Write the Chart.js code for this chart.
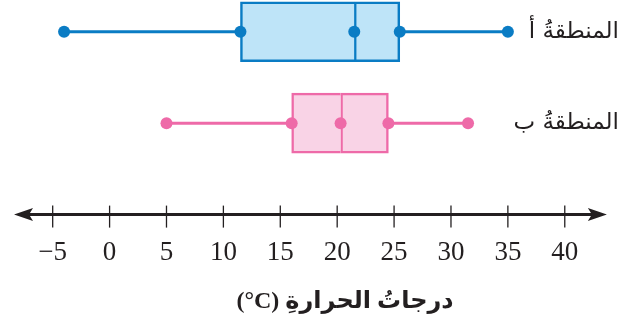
<!DOCTYPE html>
<html lang="ar">
<head>
<meta charset="utf-8">
<script src="https://cdn.jsdelivr.net/npm/chart.js@4.4.1/dist/chart.umd.min.js"></script>
<style>
  html, body { margin: 0; padding: 0; background: #fff; }
  #wrap { width: 628px; height: 329px; position: relative; }
</style>
</head>
<body>
<div id="wrap"><canvas id="box-chart"></canvas></div>
<script>
// ─── Data ────────────────────────────────────────
const regions = ['المنطقةُ أ', 'المنطقةُ ب'];
const mins    = [-4, 5];
const q1s     = [11.5, 16];
const medians = [21.5, 20.3];
const q3s     = [25.5, 24.5];
const maxs    = [35, 31.5];

const xTicks     = [-5, 0, 5, 10, 15, 20, 25, 30, 35, 40];
const axisEnds   = [-8.4, 43.7];           // arrow tips of the number line
const axisTitle  = 'درجاتُ الحرارةِ (\u200E°C)';

// ─── Styles ──────────────────────────────────────
const INK = '#231f20';
const strokes = ['#0a7cc4', '#ee6aa8'];
const fills   = ['#bee4f8', '#f9d3e6'];

const rowOf = (i) => regions.length - i;   // A on top

// ─── Datasets ────────────────────────────────────
const datasets = [];
regions.forEach((name, i) => {
  const row = rowOf(i);
  const boxStyle = {
    type: 'bar',
    indexAxis: 'y',
    backgroundColor: fills[i],
    borderColor: strokes[i],
    borderWidth: 2.5,
    barThickness: 60,
    grouped: false,
    clip: false,
    order: 2,
  };
  // lower half skips its right edge so the median is a single line
  datasets.push({ ...boxStyle, borderSkipped: 'right', label: name + ' low',  data: [{ y: row, x: [q1s[i], medians[i]] }] });
  datasets.push({ ...boxStyle, borderSkipped: false,   label: name + ' high', data: [{ y: row, x: [medians[i], q3s[i]] }] });

  // whiskers + five dots; the segments inside the box are hidden
  datasets.push({
    type: 'line',
    label: name,
    data: [mins[i], q1s[i], medians[i], q3s[i], maxs[i]].map(v => ({ x: v, y: row })),
    borderColor: strokes[i],
    borderWidth: 3,
    pointRadius: 6,
    pointBackgroundColor: strokes[i],
    pointBorderWidth: 0,
    fill: false,
    clip: false,
    order: 1,
    segment: {
      borderColor: c => (c.p0DataIndex === 1 || c.p0DataIndex === 2) ? 'rgba(0,0,0,0)' : strokes[i],
    },
  });
});

// ─── Number line: arrows, tick marks, title ──────
const numberLine = {
  id: 'numberLine',
  afterDraw(chart) {
    const { ctx, scales: { x, y } } = chart;
    const y0 = y.getPixelForValue(0);
    const xa = x.getPixelForValue(axisEnds[0]);
    const xb = x.getPixelForValue(axisEnds[1]);

    ctx.save();
    ctx.strokeStyle = INK;
    ctx.fillStyle = INK;

    ctx.lineWidth = 3;
    ctx.beginPath();
    ctx.moveTo(xa + 10, y0);
    ctx.lineTo(xb - 10, y0);
    ctx.stroke();

    ctx.lineWidth = 1.3;
    xTicks.forEach(v => {
      const px = x.getPixelForValue(v);
      ctx.beginPath();
      ctx.moveTo(px, y0 - 9);
      ctx.lineTo(px, y0 + 13);
      ctx.stroke();
    });

    [[xa, 1], [xb, -1]].forEach(([tip, dir]) => {
      ctx.beginPath();
      ctx.moveTo(tip, y0);
      ctx.lineTo(tip + dir * 19, y0 - 6.5);
      ctx.lineTo(tip + dir * 15, y0);
      ctx.lineTo(tip + dir * 19, y0 + 6.5);
      ctx.closePath();
      ctx.fill();
    });

    ctx.font = "bold 24px 'Liberation Serif', 'DejaVu Sans', serif";
    ctx.textAlign = 'center';
    ctx.textBaseline = 'middle';
    ctx.fillText('\u202B' + axisTitle + '\u202C', 345, 302);
    ctx.restore();
  },
};

// ─── Chart ───────────────────────────────────────
new Chart(document.getElementById('box-chart'), {
  type: 'bar',
  data: { datasets },
  plugins: [numberLine],
  options: {
    responsive: true,
    maintainAspectRatio: false,
    animation: false,
    layout: { padding: { left: 14, right: 2, top: 0, bottom: 38 } },
    plugins: { legend: { display: false }, tooltip: { enabled: false } },
    scales: {
      x: {
        type: 'linear',
        min: -8.4,
        max: 44.15,
        offset: false,
        afterBuildTicks: (axis) => { axis.ticks = xTicks.map(v => ({ value: v })); },
        grid: { display: false, drawTicks: false, offset: false },
        border: { display: false },
        ticks: {
          padding: 22,
          maxRotation: 0,
          autoSkip: false,
          color: INK,
          font: { size: 27, family: "'Liberation Serif', serif" },
          callback: (v) => v < 0 ? '\u2212' + Math.abs(v) : String(v),
        },
      },
      y: {
        type: 'linear',
        position: 'right',
        min: 0,
        max: 2.12,
        offset: false,
        afterBuildTicks: (axis) => { axis.ticks = regions.map((_, i) => ({ value: rowOf(i) })); },
        grid: { display: false, drawTicks: false, offset: false },
        border: { display: false },
        ticks: {
          mirror: true,
          padding: 7,
          color: INK,
          font: { size: 23, family: "'DejaVu Sans', sans-serif" },
          callback: (v) => regions[regions.length - v] || '',
        },
      },
    },
  },
});
</script>
</body>
</html>
